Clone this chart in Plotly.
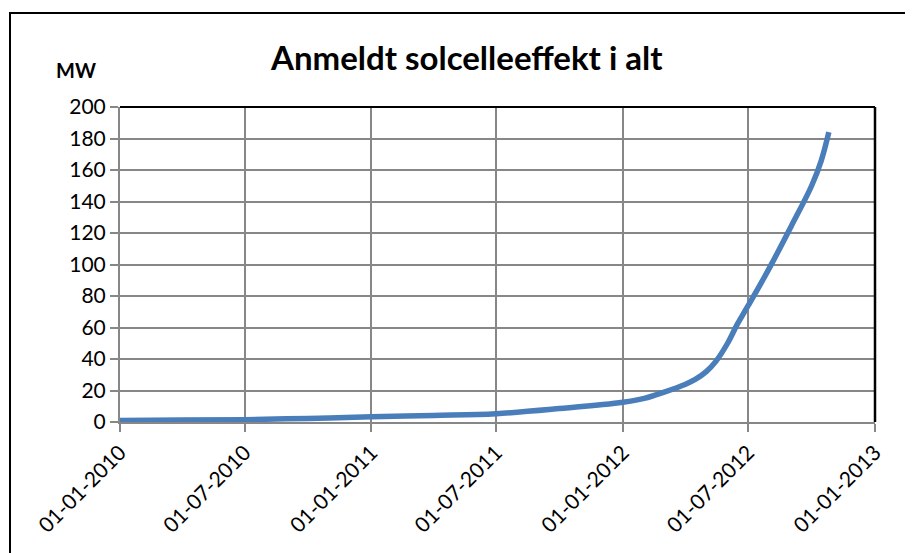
import plotly.graph_objects as go

dates = ["2010-01-01", "2010-04-01", "2010-07-01", "2010-10-01", "2011-01-01",
         "2011-04-01", "2011-07-01", "2011-10-01", "2012-01-01", "2012-02-01",
         "2012-03-01", "2012-04-01", "2012-04-15", "2012-05-01", "2012-05-15",
         "2012-06-01", "2012-06-15", "2012-07-01", "2012-08-01", "2012-09-01",
         "2012-10-01", "2012-10-15", "2012-10-26"]
mw = [1.0, 1.2, 1.5, 2.3, 3.3, 4.2, 5.3, 8.5, 12.5, 15.0, 19.0, 24.0, 27.0,
      32.0, 38.5, 50.0, 62.0, 74.0, 98.0, 124.0, 150.0, 166.0, 184.0]

tick_vals = ["2010-01-01", "2010-07-01", "2011-01-01", "2011-07-01",
             "2012-01-01", "2012-07-01", "2013-01-01"]
tick_text = ["01-01-2010", "01-07-2010", "01-01-2011", "01-07-2011",
             "01-01-2012", "01-07-2012", "01-01-2013"]
y_ticks = [0, 20, 40, 60, 80, 100, 120, 140, 160, 180, 200]

title_text = "Anmeldt solcelleeffekt i alt"
unit_text = "MW"

FONT = "Lato, Open Sans, sans-serif"
GRID = "#878787"

fig = go.Figure()
fig.add_trace(go.Scatter(
    x=dates, y=mw, mode="lines",
    line=dict(color="#4a7ebb", width=5.5, shape="spline", smoothing=1.0),
    showlegend=False, hoverinfo="x+y",
))

OFF = 8  # page body margin
W, H = 913 - OFF, 553 - OFF
L, R, T, B = 120 - OFF, 38, 107 - OFF, 131
pw, ph = W - L - R, H - T - B

def px(x):
    return (x - OFF - L) / pw

def py(y):
    return (H - B - (y - OFF)) / ph

fig.update_layout(
    width=W, height=H,
    margin=dict(l=L, r=R, t=T, b=B),
    paper_bgcolor="white", plot_bgcolor="white",
    font=dict(family=FONT, color="black", size=21),
    xaxis=dict(
        type="date", range=["2010-01-01", "2013-01-01"],
        tickvals=tick_vals, ticktext=tick_text, tickangle=-45,
        showgrid=True, gridcolor=GRID, gridwidth=2,
        showline=True, linecolor=GRID, linewidth=2,
        ticks="outside", ticklen=8, tickcolor=GRID, tickwidth=2,
        tickfont=dict(size=21, family=FONT),
        zeroline=False,
    ),
    yaxis=dict(
        range=[0, 200], tickvals=y_ticks,
        showgrid=True, gridcolor=GRID, gridwidth=2,
        showline=True, linecolor=GRID, linewidth=2,
        ticks="outside", ticklen=8, tickcolor=GRID, tickwidth=2,
        tickfont=dict(size=21, family=FONT),
        zeroline=False,
    ),
    shapes=[
        dict(type="rect", xref="paper", yref="paper",
             x0=px(10), x1=px(925), y0=py(570), y1=py(13),
             line=dict(color="black", width=2), layer="below"),
        dict(type="line", xref="paper", yref="paper",
             x0=0, x1=1, y0=1, y1=1, line=dict(color="black", width=2)),
        dict(type="line", xref="paper", yref="paper",
             x0=1, x1=1, y0=0, y1=1, line=dict(color="black", width=2.5)),
    ],
    annotations=[
        dict(text="<b>" + title_text + "</b>", xref="paper", yref="paper",
             x=px(466), y=py(57), xanchor="center", yanchor="middle",
             showarrow=False, font=dict(size=33, family=FONT)),
        dict(text="<b>" + unit_text + "</b>", xref="paper", yref="paper",
             x=px(76), y=py(70), xanchor="center", yanchor="middle",
             showarrow=False, font=dict(size=20, family=FONT)),
    ],
)

fig.write_html("out.html")
